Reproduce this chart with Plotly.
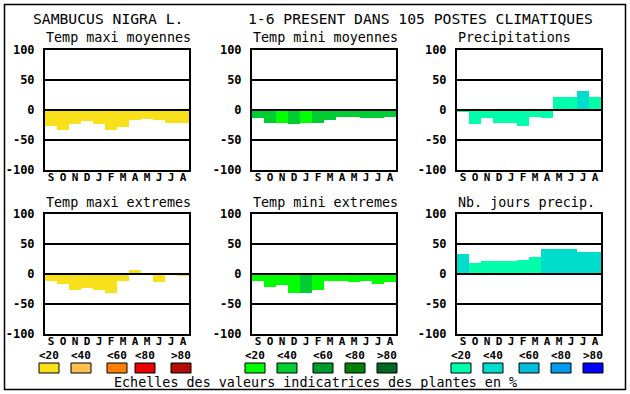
import plotly.graph_objects as go

W, H = 630, 394

months = ["S", "O", "N", "D", "J", "F", "M", "A", "M", "J", "J", "A"]
tick_vals = [-100, -50, 0, 50, 100]
tick_text = ["-100", "-50", "0", "50", "100"]

titles = ["Temp maxi moyennes", "Temp mini moyennes", "Precipitations",
          "Temp maxi extremes", "Temp mini extremes", "Nb. jours precip."]

tmax_moy = [-26, -34, -24, -18, -23, -33, -28, -17, -15, -17, -21, -21]
tmin_moy = [-14, -22, -22, -24, -21, -21, -17, -12, -11, -14, -14, -12]
precip = [-4, -24, -14, -21, -21, -27, -12, -14, 21, 21, 32, 22]
tmax_ext = [-11, -16, -27, -24, -26, -31, -11, 7, -2, -14, 0, -4]
tmin_ext = [-11, -21, -18, -31, -31, -26, -12, -11, -14, -11, -16, -14]
nb_jours = [34, 18, 21, 21, 21, 24, 28, 41, 41, 41, 37, 37]

# colour class (0..4 = <20, <40, <60, <80, >80) of each bar
cls_tmax_moy = [0] * 12
cls_tmin_moy = [1, 1, 0, 1, 0, 1, 1, 1, 1, 1, 1, 1]
cls_precip = [0, 0, 0, 0, 0, 0, 0, 0, 0, 0, 1, 0]
cls_tmax_ext = [0] * 12
cls_tmin_ext = [0, 0, 0, 0, 1, 0, 0, 0, 0, 0, 0, 0]
cls_nb_jours = [1, 0, 0, 0, 0, 0, 0, 1, 1, 1, 1, 1]

scale_labels = ["<20", "<40", "<60", "<80", ">80"]
pal_temp_max = ["#F8E11B", "#FFC050", "#FF8000", "#E80000", "#B00E00"]
pal_temp_min = ["#00FF00", "#00CC33", "#00992F", "#008000", "#006622"]
pal_water = ["#00FFAA", "#00DDCC", "#00BBDD", "#0099EE", "#0000FF"]

series = [tmax_moy, tmin_moy, precip, tmax_ext, tmin_ext, nb_jours]
classes = [cls_tmax_moy, cls_tmin_moy, cls_precip, cls_tmax_ext, cls_tmin_ext, cls_nb_jours]
palettes = [pal_temp_max, pal_temp_min, pal_water, pal_temp_max, pal_temp_min, pal_water]

# layout in pixels
col_left = [45, 252, 457]
plot_w = 144
row_top = [50, 214]
plot_h = 120

FONT = "DejaVu Sans Mono"

fig = go.Figure()
shapes = []
annotations = []

for i in range(6):
    r, c = divmod(i, 3)
    n = i + 1
    xa = "x" if n == 1 else f"x{n}"
    ya = "y" if n == 1 else f"y{n}"
    x0 = col_left[c]
    y0 = row_top[r]
    fig.add_trace(go.Bar(
        x=list(range(12)), y=series[i], width=1.0,
        marker=dict(color=[palettes[i][k] for k in classes[i]], line=dict(width=0)),
        xaxis=xa, yaxis=ya, showlegend=False, hoverinfo="skip",
    ))
    xkey = "xaxis" if n == 1 else f"xaxis{n}"
    ykey = "yaxis" if n == 1 else f"yaxis{n}"
    fig.update_layout(**{
        xkey: dict(
            domain=[x0 / W, (x0 + plot_w) / W], anchor=ya, automargin=False,
            range=[-0.5, 11.5], tickvals=list(range(12)), ticktext=months,
            showgrid=False, zeroline=False, ticks="",
            showline=True, mirror=True, linecolor="black", linewidth=2,
            tickfont=dict(family=FONT, size=11, color="black", weight="bold"),
            ticklabelstandoff=-4, fixedrange=True,
        ),
        ykey: dict(
            domain=[1 - (y0 + plot_h) / H, 1 - y0 / H], anchor=xa, automargin=False,
            range=[-100, 100], tickvals=tick_vals, ticktext=tick_text,
            showgrid=True, gridcolor="black", gridwidth=2,
            zeroline=False, ticks="",
            showline=True, mirror=True, linecolor="black", linewidth=2,
            tickfont=dict(family=FONT, size=12, color="black", weight="bold"),
            ticklabelstandoff=6, fixedrange=True,
        ),
    })
    # zero line drawn above the bars
    shapes.append(dict(type="line", xref=f"{xa} domain", yref=ya, x0=0, x1=1, y0=0, y1=0,
                       line=dict(color="black", width=2), layer="above"))
    annotations.append(dict(text=titles[i], xref="paper", yref="paper",
                            x=(x0 - 1) / W, y=1 - (y0 - 12) / H, xanchor="left", yanchor="middle",
                            showarrow=False, font=dict(family=FONT, size=13.4, color="black")))

# titles
annotations.append(dict(text="SAMBUCUS NIGRA L.", xref="paper", yref="paper",
                        x=31 / W, y=1 - 18 / H, xanchor="left", yanchor="middle", showarrow=False,
                        font=dict(family=FONT, size=14.7, color="black")))
annotations.append(dict(text="1-6 PRESENT DANS 105 POSTES CLIMATIQUES", xref="paper", yref="paper",
                        x=246 / W, y=1 - 18 / H, xanchor="left", yanchor="middle", showarrow=False,
                        font=dict(family=FONT, size=14.7, color="black")))
annotations.append(dict(text="Echelles des valeurs indicatrices des plantes en %", xref="paper", yref="paper",
                        x=315 / W, y=1 - 382 / H, xanchor="center", yanchor="middle", showarrow=False,
                        font=dict(family=FONT, size=13.4, color="black")))

# colour scale legend
box_x = [
    [39, 71, 107, 135, 171],
    [245, 277, 313, 345, 377],
    [451, 483, 519, 551, 583],
]
leg_pals = [pal_temp_max, pal_temp_min, pal_water]
for g in range(3):
    for k in range(5):
        bx = box_x[g][k]
        shapes.append(dict(type="rect", xref="paper", yref="paper",
                           x0=bx / W, x1=(bx + 20) / W, y0=1 - 373 / H, y1=1 - 363 / H,
                           fillcolor=leg_pals[g][k], line=dict(color="black", width=1)))
        annotations.append(dict(text=scale_labels[k], xref="paper", yref="paper",
                                x=(bx + 10) / W, y=1 - 355 / H, xanchor="center", yanchor="middle",
                                showarrow=False,
                                font=dict(family=FONT, size=11, color="black", weight="bold")))

# outer frame
shapes.append(dict(type="rect", xref="paper", yref="paper",
                   x0=4.5 / W, x1=625.5 / W, y0=1 - 389.5 / H, y1=1 - 4.5 / H,
                   line=dict(color="black", width=1.5), fillcolor="rgba(0,0,0,0)"))

fig.update_layout(
    width=W, height=H, margin=dict(l=0, r=0, t=0, b=0, pad=0, autoexpand=False),
    paper_bgcolor="white", plot_bgcolor="white",
    bargap=0, shapes=shapes, annotations=annotations, showlegend=False,
)

fig.write_html("out.html", config={"displayModeBar": False, "staticPlot": True},
               post_script="document.body.style.margin='0';")
